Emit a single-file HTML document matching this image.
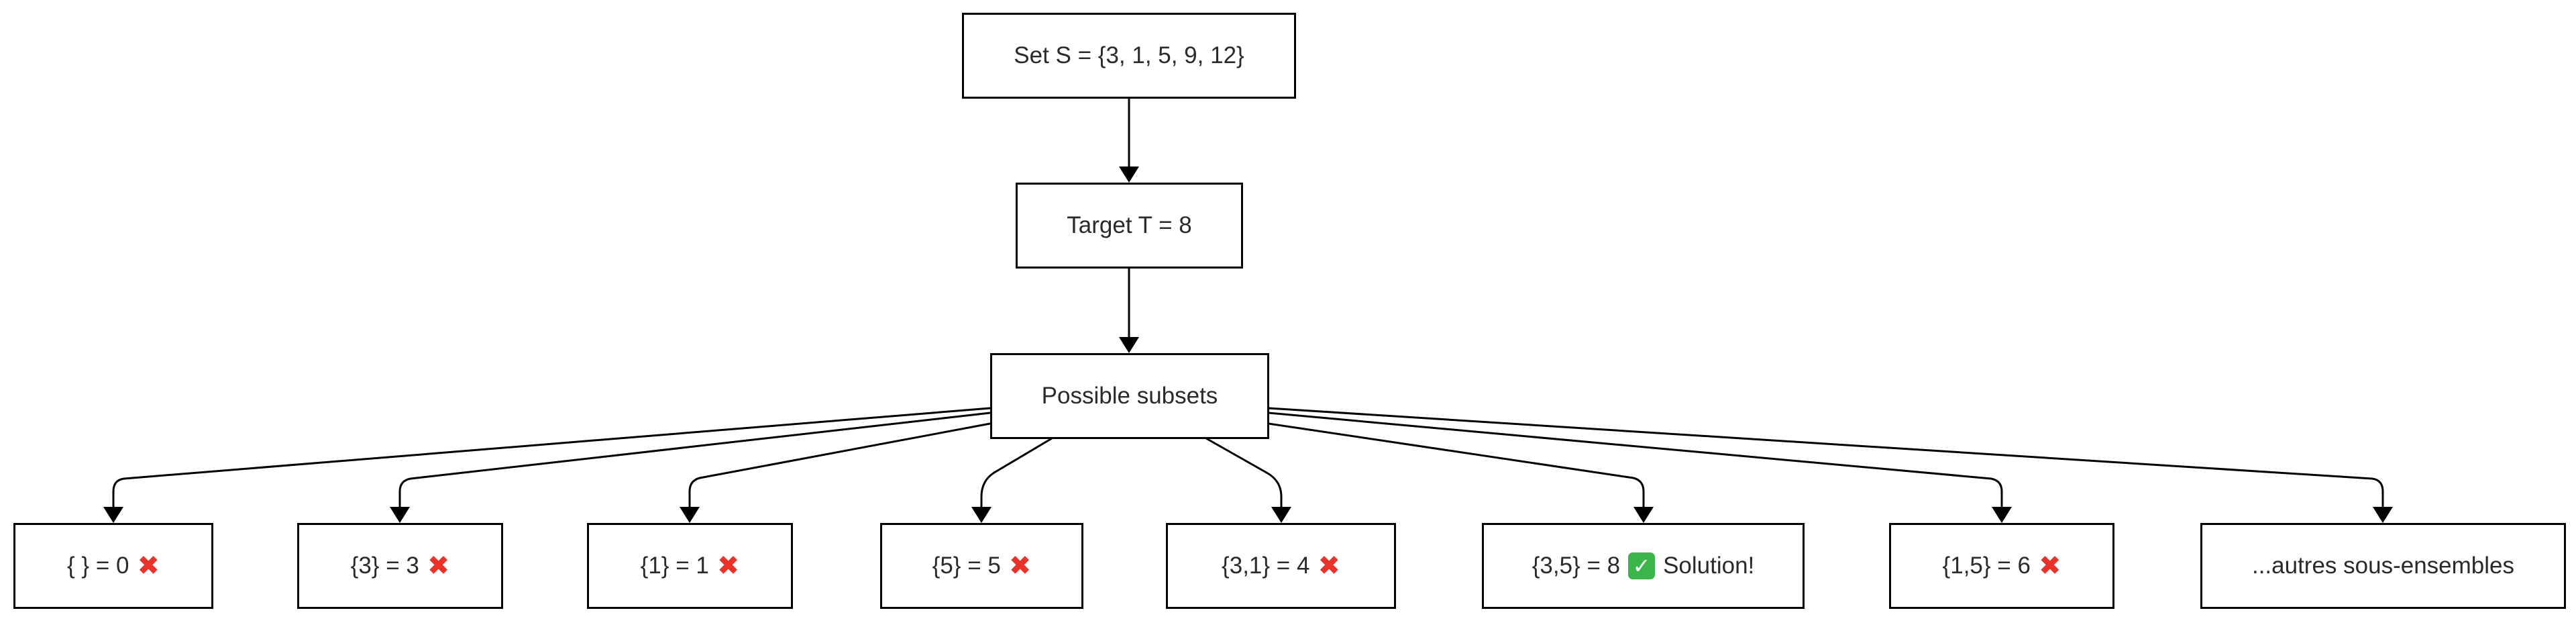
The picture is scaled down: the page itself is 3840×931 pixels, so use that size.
<!DOCTYPE html>
<html><head><meta charset="utf-8"><style>
html,body{margin:0;padding:0;background:#fff;}
body{width:3840px;height:931px;position:relative;overflow:hidden;font-family:"Liberation Sans","DejaVu Sans",sans-serif;}
.b{position:absolute;box-sizing:border-box;border:3px solid #000;background:#fff;display:flex;align-items:center;justify-content:center;font-size:35px;color:#2a2a2a;}
.x{color:#e8332a;font-size:40px;margin-left:12px;font-family:"DejaVu Sans",sans-serif;}
.ok{display:inline-block;width:40px;height:40px;background:#3bb54a;color:#fff;border-radius:7px;font-size:32px;line-height:40px;text-align:center;margin:0 12px;font-weight:bold;font-family:"DejaVu Sans",sans-serif;}
svg{position:absolute;left:0;top:0;}
</style></head><body>
<svg width="3840" height="931" viewBox="0 0 3840 931">
<g fill="none" stroke="#000" stroke-width="3">
<path d="M1683,146 V252"/>
<path d="M1683,399 V506"/>
<path d="M1476,608 L185,713 Q169,715 169,732 V758"/>
<path d="M1476,615 L612,713 Q596,716 596,732 V758"/>
<path d="M1476,631 L1043,712 Q1028,716 1028,732 V758"/>
<path d="M1568,653 L1482,704 Q1463,716 1463,740 V758"/>
<path d="M1798,653 L1888,704 Q1910,716 1910,740 V758"/>
<path d="M1891,631 L2435,712 Q2450,716 2450,732 V758"/>
<path d="M1891,615 L2968,713 Q2984,716 2984,732 V758"/>
<path d="M1891,608 L3536,713 Q3552,715 3552,732 V758"/>
</g>
<g fill="#000">
<path d="M1668,248 H1698 L1683,272z"/>
<path d="M1668,502 H1698 L1683,526z"/>
<path d="M154,755 H184 L169,779z"/>
<path d="M581,755 H611 L596,779z"/>
<path d="M1013,755 H1043 L1028,779z"/>
<path d="M1448,755 H1478 L1463,779z"/>
<path d="M1895,755 H1925 L1910,779z"/>
<path d="M2435,755 H2465 L2450,779z"/>
<path d="M2969,755 H2999 L2984,779z"/>
<path d="M3537,755 H3567 L3552,779z"/>
</g>
</svg>
<div class="b" style="left:1434px;top:19px;width:498px;height:128px;">Set S = {3, 1, 5, 9, 12}</div>
<div class="b" style="left:1514px;top:272px;width:339px;height:128px;">Target T = 8</div>
<div class="b" style="left:1476px;top:526px;width:416px;height:128px;">Possible subsets</div>
<div class="b" style="left:20px;top:779px;width:298px;height:128px;">{ } = 0<span class="x">✖</span></div>
<div class="b" style="left:443px;top:779px;width:307px;height:128px;">{3} = 3<span class="x">✖</span></div>
<div class="b" style="left:875px;top:779px;width:307px;height:128px;">{1} = 1<span class="x">✖</span></div>
<div class="b" style="left:1312px;top:779px;width:303px;height:128px;">{5} = 5<span class="x">✖</span></div>
<div class="b" style="left:1738px;top:779px;width:343px;height:128px;">{3,1} = 4<span class="x">✖</span></div>
<div class="b" style="left:2209px;top:779px;width:481px;height:128px;">{3,5} = 8<span class="ok">✓</span>Solution!</div>
<div class="b" style="left:2816px;top:779px;width:336px;height:128px;">{1,5} = 6<span class="x">✖</span></div>
<div class="b" style="left:3280px;top:779px;width:545px;height:128px;">...autres sous-ensembles</div>
</body></html>
